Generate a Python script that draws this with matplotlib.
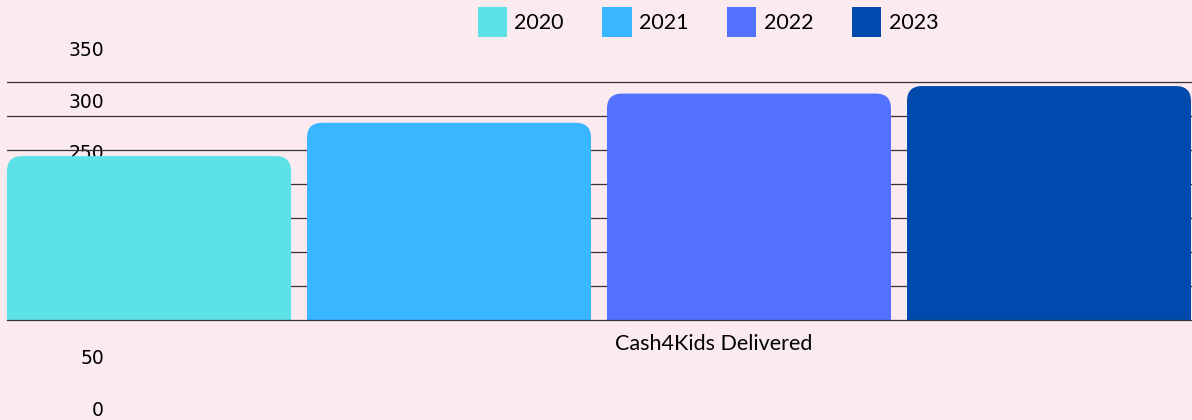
import matplotlib.pyplot as plt
from matplotlib.patches import FancyBboxPatch, Rectangle, Patch

years = ['2020', '2021', '2022', '2023']
values = [241, 290, 333, 344]
colors = ['#5ce1e6', '#38b6ff', '#5271ff', '#004aad']
category = 'Cash4Kids Delivered'
tick_values = [0, 50, 100, 150, 200, 250, 300, 350]

bg = '#fbeaf0'
W, H = 1192, 420
fig = plt.figure(figsize=(W / 100, H / 100), dpi=100, facecolor=bg)

# tick labels live on their own (hidden) axes, drawn underneath the bars
ax_t = fig.add_axes([104 / W, 12 / H, 0.1, 359 / H], zorder=0)
ax_t.set_ylim(0, 350)
ax_t.set_yticks(tick_values)
ax_t.set_xticks([])
ax_t.tick_params(axis='y', length=0, pad=0, labelsize=13.5)
ax_t.patch.set_alpha(0)
for s in ax_t.spines.values():
    s.set_visible(False)

# main plot area
ymax = 355
ax = fig.add_axes([7 / W, 100 / H, 1185 / W, ymax * 0.68 / H], zorder=1)
ax.patch.set_alpha(0)
bw = 284 / 300
ax.set_xlim(-bw / 2, -bw / 2 + 1185 / 300)
ax.set_ylim(0, ymax)
for s in ax.spines.values():
    s.set_visible(False)
ax.set_yticks(tick_values[1:])
ax.tick_params(axis='y', length=0, labelleft=False)
ax.grid(axis='y', color='#333333', linewidth=0.9)
ax.set_axisbelow(True)

r = 15 / 300          # corner radius in x units
aspect = (15 / 0.68) / r
for i, (v, c) in enumerate(zip(values, colors)):
    ax.add_patch(FancyBboxPatch((i - bw / 2, 0), bw, v,
                                boxstyle=f'round,pad=0,rounding_size={r}',
                                mutation_aspect=aspect, fc=c, ec='none', zorder=2))
    ax.add_patch(Rectangle((i - bw / 2, 0), bw, v - 30, fc=c, ec='none', zorder=2))
ax.axhline(0, color='#333333', linewidth=0.9, zorder=3, clip_on=False)

ax.set_xticks([-bw / 2 + 707 / 300])
ax.set_xticklabels([category], fontsize=15.5, family='Lato')
ax.tick_params(axis='x', length=0, pad=10)

handles = [Patch(fc=c, ec='none') for c in colors]
fig.legend(handles, years, loc='center', bbox_to_anchor=(708 / W, 1 - 22 / H),
           ncol=4, frameon=False, prop={'family': 'Lato', 'size': 15.5},
           handlelength=1.35, handleheight=1.7, handletextpad=0.35, columnspacing=1.8)

fig.savefig('out.png', dpi=100, facecolor=bg)
